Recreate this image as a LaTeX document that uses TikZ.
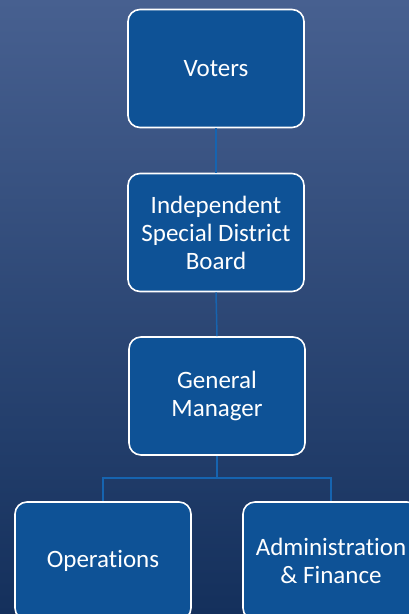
\documentclass[tikz,border=0pt]{standalone}
\usepackage{fontspec}
\setmainfont[Ligatures=NoCommon]{Carlito}
\definecolor{bgtop}{RGB}{71,96,144}
\definecolor{bgbot}{RGB}{20,48,92}
\definecolor{boxfill}{RGB}{14,82,150}
\definecolor{linkcol}{RGB}{22,100,176}
\tikzset{
  orgbox/.style={draw=white, line width=1.6pt, fill=boxfill, rounded corners=12pt,
    minimum width=176pt, minimum height=118pt, inner sep=0pt, align=center,
    text=white, font=\fontsize{25}{28}\selectfont},
  link/.style={draw=linkcol, line width=1.5pt}
}
\begin{document}
\begin{tikzpicture}[x=1pt,y=1pt]
\useasboundingbox (0,0) rectangle (409,614);
\clip (0,0) rectangle (409,614);
\shade[top color=bgtop, bottom color=bgbot] (0,0) rectangle (409,614);
\node[orgbox] (voters) at (216,545.5) {Voters};
\node[orgbox] (board) at (216,381.5) {Independent\\Special District\\Board};
\node[orgbox] (gm) at (217,218) {General\\Manager};
\node[orgbox] (ops) at (103,53) {Operations};
\node[orgbox] (adm) at (331,53) {Administration\\\& Finance};
\coordinate (bus) at (217,136);
\draw[link] (voters.south) -- (board.north);
\draw[link] (board.south) -- (gm.north);
\draw[link] (gm.south) -- (bus);
\draw[link] (bus) -| (ops.north);
\draw[link] (bus) -| (adm.north);
\end{tikzpicture}
\end{document}
